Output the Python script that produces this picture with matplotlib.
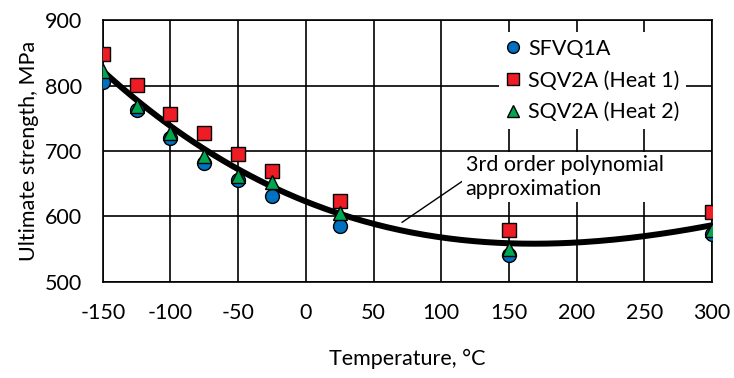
import numpy as np
import matplotlib.pyplot as plt

plt.rcParams['font.family'] = ['Lato', 'DejaVu Sans']
plt.rcParams['axes.unicode_minus'] = False

# Data
temp = [-150, -125, -100, -75, -50, -25, 25, 150, 300]
sfvq1a = [806, 763, 720, 681, 656, 631, 586, 541, 574]
sqv2a_h1 = [848, 801, 756, 727, 695, 669, 624, 580, 607]
sqv2a_h2 = [822, 768, 727, 693, 662, 653, 606, 551, 580]

xticks = [-150, -100, -50, 0, 50, 100, 150, 200, 250, 300]
yticks = [500, 600, 700, 800, 900]

# 3rd order polynomial through all points
all_x = np.array(temp * 3)
all_y = np.array(sfvq1a + sqv2a_h1 + sqv2a_h2)
coef = np.polyfit(all_x, all_y, 3)
xs = np.linspace(-150, 300, 200)

fig = plt.figure(figsize=(7.34, 3.78), dpi=100)
ax = fig.add_axes([0.140, 0.254, 0.830, 0.693])

ax.plot(xs, np.polyval(coef, xs), color='black', lw=4.3, zorder=3)
ax.plot(temp, sfvq1a, 'o', color='#0070C0', mec='black', mew=1, ms=10,
        label='SFVQ1A', zorder=4)
ax.plot(temp, sqv2a_h1, 's', color='#EE1C24', mec='black', mew=1, ms=9.5,
        label='SQV2A (Heat 1)', zorder=4)
ax.plot(temp, sqv2a_h2, '^', color='#00A650', mec='black', mew=1, ms=10,
        label='SQV2A (Heat 2)', zorder=5)

ax.set_xlim(-150, 300)
ax.set_ylim(500, 900)
ax.set_xticks(xticks)
ax.set_yticks(yticks)
ax.grid(True, color='black', lw=1.2)
ax.set_axisbelow(True)
for s in ax.spines.values():
    s.set_linewidth(1.2)
ax.tick_params(length=0, labelsize=15.5, pad=15)

ax.set_xlabel('Temperature, °C', fontsize=15.5, labelpad=19)
ax.set_ylabel('Ultimate strength, MPa', fontsize=15.5, labelpad=4)

leg = ax.legend(loc='upper right', bbox_to_anchor=(0.975, 0.995), fontsize=15.5,
                frameon=True, fancybox=False, edgecolor='none', framealpha=1,
                handlelength=0.7, handletextpad=0.35, labelspacing=0.55,
                borderpad=0.3, markerscale=0.85)
leg.set_zorder(6)

ax.annotate('3rd order polynomial\napproximation', xy=(71, 591),
            xytext=(118, 627), fontsize=15.5, ha='left', va='bottom',
            linespacing=1.25,
            bbox=dict(boxstyle='square,pad=0.15', fc='white', ec='none'),
            arrowprops=dict(arrowstyle='-', color='black', lw=1,
                            shrinkA=0, shrinkB=0,
                            relpos=(0, 0.45)),
            zorder=6)

fig.savefig('out.png', dpi=100)
